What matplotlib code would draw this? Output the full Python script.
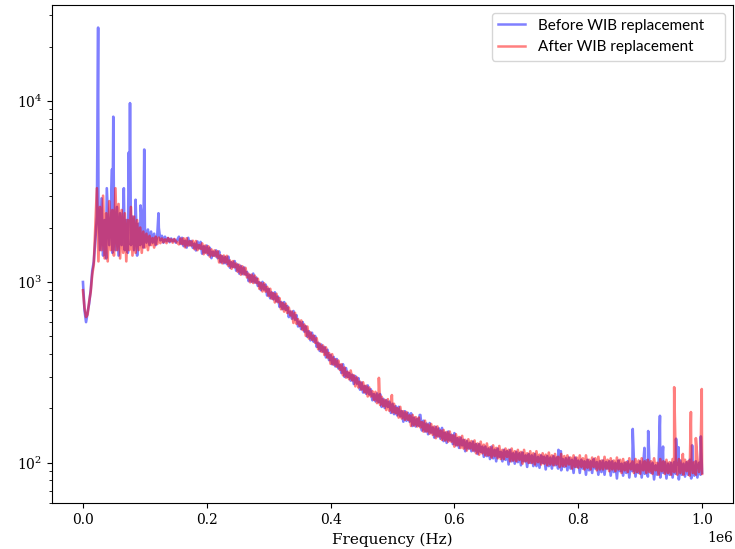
import numpy as np
import matplotlib
matplotlib.use('Agg')
import matplotlib.pyplot as plt

plt.rcParams['font.family'] = 'DejaVu Serif'
plt.rcParams['mathtext.fontset'] = 'dejavuserif'

# frequency grids (Hz)
freq_low = np.arange(0, 150001, 2500)
freq_high = np.arange(155000, 1000001, 5000)
freq_mid = np.arange(157500, 1000000, 5000)

# spectrum, "before" (blue) and "after" (red)
before_low = [1000, 700, 600, 680, 760, 900, 1150, 1300, 1700, 2300,
              2600, 1500, 2900, 1400, 2200, 1350, 2500, 1600, 2300, 1450,
              2700, 1500, 2600, 1400, 2400, 1600, 2500, 1500, 2200, 1450,
              2900, 1600, 2300, 1500, 2500, 1400, 2100, 1600, 2300, 1550,
              2000, 1650, 1950, 1600, 1900, 1650, 1850, 1600, 1800, 2000,
              1700, 1800, 1650, 1780, 1680, 1750, 1660, 1740, 1680, 1720,
              1650]
after_low = [900, 720, 640, 660, 780, 880, 1100, 1250, 2000, 3300,
             1300, 2600, 1500, 3000, 1350, 2400, 1300, 2800, 1500, 2500,
             1400, 3300, 1500, 2700, 1350, 2500, 1450, 2400, 1300, 2200,
             1500, 2600, 1400, 2300, 1450, 2200, 1500, 2000, 1450, 1900,
             1550, 1850, 1500, 1800, 1600, 1750, 1550, 1780, 1620, 1760,
             1640, 1740, 1660, 1720, 1640, 1750, 1680, 1720, 1650, 1730,
             1680]

before_high = [1780, 1755, 1690, 1755, 1685, 1630, 1675, 1665, 1575, 1590,
               1545, 1470, 1495, 1475, 1390, 1375, 1380, 1285, 1305, 1250,
               1226, 1204, 1137, 1093, 1113, 1058, 996, 1001, 967, 915,
               876, 877, 830, 775, 774, 737, 687, 691, 655, 602,
               600, 569, 534, 524, 503, 461, 451, 437, 422, 395,
               385, 375, 348, 351, 334, 314, 307, 302, 294, 278,
               266, 268, 255, 240, 242, 240, 226, 222, 218, 212,
               206, 204, 193, 193, 189, 188, 178, 175, 184, 171,
               165, 166, 157, 158, 155, 156, 147, 149, 143, 146,
               137, 138, 134, 132, 129, 131, 127, 127, 123, 123,
               120, 123, 118, 120, 115, 118, 116, 118, 113, 115,
               113, 114, 110, 112, 110, 112, 108, 110, 108, 109,
               107, 109, 107, 115, 105, 106, 107, 104, 107, 103,
               104, 102, 104, 102, 105, 101, 102, 103, 101, 102,
               102, 100, 103, 99, 100, 102, 99, 101, 98, 102,
               99, 103, 100, 100, 97, 103, 98, 101, 99, 100,
               101, 98, 103, 99, 101, 104, 98, 102, 100, 88]
before_mid = [1625, 1580, 1550, 1595, 1545, 1495, 1535, 1435, 1455,
              1410, 1355, 1395, 1355, 1285, 1270, 1255, 1200, 1210, 1155,
              1113, 1106, 1098, 1012, 1003, 993, 952, 902, 909, 842,
              813, 802, 781, 729, 708, 702, 640, 627, 619, 568,
              549, 532, 498, 476, 468, 438, 416, 412, 383, 370,
              351, 342, 333, 314, 299, 298, 285, 273, 274, 254,
              245, 241, 239, 222, 219, 216, 204, 201, 204, 189,
              186, 183, 181, 169, 171, 169, 160, 159, 160, 151,
              149, 144, 147, 138, 140, 136, 132, 129, 133, 127,
              125, 121, 125, 116, 120, 116, 116, 112, 115, 108,
              109, 105, 106, 102, 108, 102, 104, 98, 102, 99,
              101, 97, 102, 95, 100, 96, 96, 94, 100, 92,
              96, 93, 97, 93, 91, 95, 91, 93, 88, 95,
              88, 93, 86, 91, 88, 93, 86, 89, 86, 93,
              85, 89, 82, 90, 85, 88, 83, 90, 84, 88,
              83, 87, 84, 88, 81, 86, 83, 88, 82, 86,
              83, 87, 81, 86, 84, 86, 82, 85, 83, 86]

after_high = [1615, 1620, 1555, 1590, 1590, 1520, 1500, 1525, 1425, 1440,
              1382, 1397, 1382, 1283, 1269, 1280, 1226, 1184, 1205, 1140,
              1098, 1102, 1060, 997, 988, 988, 917, 887, 885, 836,
              808, 771, 774, 707, 686, 674, 654, 594, 587, 572,
              543, 504, 487, 479, 461, 425, 412, 395, 382, 353,
              349, 340, 327, 305, 296, 290, 286, 265, 261, 254,
              245, 233, 233, 223, 214, 209, 206, 196, 194, 190,
              188, 178, 176, 173, 173, 160, 161, 159, 157, 149,
              149, 145, 143, 137, 140, 134, 133, 131, 131, 123,
              125, 121, 120, 117, 120, 117, 113, 111, 113, 110,
              110, 107, 109, 106, 105, 105, 108, 102, 103, 102,
              104, 99, 102, 100, 100, 98, 101, 98, 99, 97,
              98, 97, 98, 95, 96, 96, 98, 93, 95, 94,
              95, 92, 94, 92, 95, 91, 92, 92, 93, 90,
              92, 90, 92, 88, 91, 89, 92, 88, 89, 87,
              91, 88, 89, 87, 91, 86, 90, 87, 88, 86,
              89, 86, 88, 86, 90, 85, 88, 86, 89, 87]
after_mid = [1740, 1745, 1745, 1680, 1690, 1685, 1600, 1635, 1590,
             1575, 1515, 1495, 1480, 1405, 1400, 1395, 1315, 1305, 1265,
             1243, 1221, 1198, 1110, 1098, 1085, 1042, 989, 984, 941,
             917, 868, 861, 814, 767, 759, 722, 686, 676, 622,
             613, 582, 567, 526, 506, 489, 456, 446, 435, 405,
             399, 374, 368, 351, 337, 319, 324, 305, 297, 281,
             279, 267, 261, 249, 247, 236, 232, 223, 225, 213,
             212, 201, 204, 193, 191, 183, 184, 179, 178, 168,
             171, 163, 164, 159, 159, 151, 152, 148, 149, 142,
             144, 139, 141, 134, 135, 132, 133, 128, 131, 126,
             128, 122, 125, 121, 124, 118, 120, 118, 120, 116,
             118, 115, 118, 113, 116, 113, 116, 111, 113, 111,
             114, 110, 112, 108, 112, 109, 110, 107, 110, 107,
             110, 106, 110, 104, 107, 106, 108, 103, 108, 104,
             106, 103, 107, 104, 105, 101, 106, 102, 105, 103,
             106, 102, 104, 102, 106, 100, 105, 102, 104, 101,
             105, 102, 105, 101, 104, 102, 105, 101, 105, 102]

# narrow spectral lines (Hz, amplitude)
before_spikes = [(24500, 25500), (38500, 3300), (47000, 4200), (49000, 8200),
                 (66000, 3300), (74000, 5200), (76000, 9750), (85000, 2850),
                 (93000, 2650), (99000, 5400), (122000, 2400), (544000, 184),
                 (768000, 118), (772000, 116), (888000, 154), (907000, 121),
                 (913000, 150), (932000, 182), (937000, 123), (958000, 136),
                 (962000, 122), (984000, 125), (998000, 140)]
after_spikes = [(478000, 295), (499000, 237), (955000, 262), (969000, 112),
                (982000, 191), (990000, 137), (999500, 256)]


def build_series(low, high, mid, spikes):
    f = np.concatenate([freq_low, freq_high, freq_mid, [s[0] for s in spikes]])
    v = np.concatenate([low, high, mid, [s[1] for s in spikes]])
    order = np.argsort(f, kind='stable')
    return f[order], v[order]


fb, vb = build_series(before_low, before_high, before_mid, before_spikes)
fa, va = build_series(after_low, after_high, after_mid, after_spikes)

fig = plt.figure(figsize=(7.35, 5.49), dpi=100)
ax = fig.add_axes([52 / 735, 46 / 549, 681 / 735, 498 / 549])

ax.plot(fb, vb, color='blue', alpha=0.5, linewidth=1.9, label='Before WIB replacement    ')
ax.plot(fa, va, color='red', alpha=0.5, linewidth=1.9, label='After WIB replacement')

ax.set_yscale('log')
ax.set_xlim(-50000, 1050000)
ax.set_ylim(60, 34000)
ax.set_xlabel('Frequency (Hz)', fontsize=11, labelpad=4)
ax.tick_params(labelsize=10)
leg = ax.legend(loc='upper right', prop={'family': 'Lato', 'size': 11}, handlelength=1.8)
for line in leg.get_lines():
    line.set_linewidth(1.8)

fig.savefig('out.png', dpi=100)
